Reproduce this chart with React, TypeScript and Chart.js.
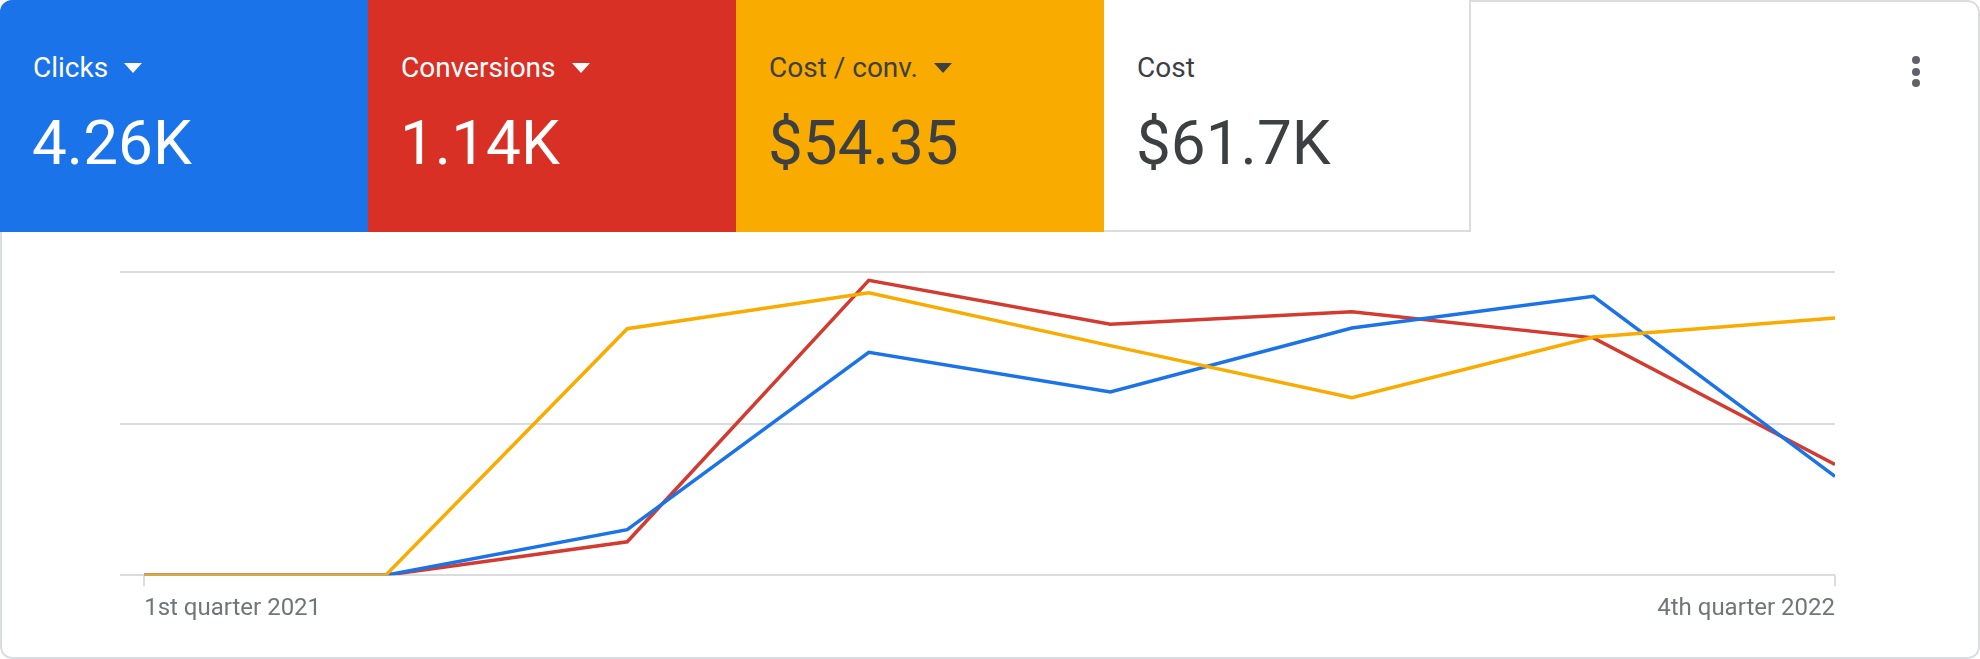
import React, { useEffect, useRef } from 'react';
import { Chart, registerables } from 'chart.js';

Chart.register(...registerables);

// quarters on the x axis (only first and last are labelled)
const quarters = [
    '1st quarter 2021', '2nd quarter 2021', '3rd quarter 2021', '4th quarter 2021',
    '1st quarter 2022', '2nd quarter 2022', '3rd quarter 2022', '4th quarter 2022',
];

// series values, each metric has its own hidden scale
const clicks = [0, 0, 180, 882, 725, 978, 1104, 391];
const conversions = [0, 0, 32, 282, 240, 252, 227, 106];
const costPerConv = [0, 0, 56.9, 65.2, 53.0, 41.0, 55.0, 59.4];

const clicksMax = 1200;
const conversionsMax = 290;
const costPerConvMax = 70;

// scorecard tiles
const tileLabels = ['Clicks', 'Conversions', 'Cost / conv.', 'Cost'];
const tileValues = ['4.26K', '1.14K', '$54.35', '$61.7K'];
const tileColors = ['#1a73e8', '#d93025', '#f9ab00', '#ffffff'];
const tileText = ['#ffffff', '#ffffff', '#3c4043', '#3c4043'];
const tileHasArrow = [true, true, true, false];

const FONT = 'Roboto, "Noto Sans", Arial, sans-serif';

const TrendChart: React.FC = () => {
    const chartRef = useRef<HTMLCanvasElement>(null);
    const chartInstance = useRef<Chart | null>(null);

    useEffect(() => {
        if (!chartRef.current) return;
        if (chartInstance.current) chartInstance.current.destroy();
        const ctx = chartRef.current.getContext('2d');
        if (!ctx) return;

        const toPoints = (arr: number[]) => arr.map((v, i) => ({ x: i, y: v }));

        chartInstance.current = new Chart(ctx, {
            type: 'line',
            data: {
                datasets: [
                    {
                        label: 'Cost / conv.',
                        data: toPoints(costPerConv),
                        borderColor: '#f9ab00',
                        yAxisID: 'yCpa',
                        order: 0,
                    },
                    {
                        label: 'Clicks',
                        data: toPoints(clicks),
                        borderColor: '#1a73e8',
                        yAxisID: 'y',
                        order: 1,
                    },
                    {
                        label: 'Conversions',
                        data: toPoints(conversions),
                        borderColor: '#d33b30',
                        yAxisID: 'yConv',
                        order: 2,
                    },
                ],
            },
            options: {
                animation: false,
                responsive: true,
                maintainAspectRatio: false,
                layout: { padding: { left: 120, right: 145, top: 40, bottom: 28 } },
                elements: {
                    line: { borderWidth: 3.5, tension: 0, fill: false },
                    point: { radius: 0, hoverRadius: 0 },
                },
                plugins: {
                    legend: { display: false },
                    tooltip: { enabled: false },
                },
                scales: {
                    x: {
                        type: 'linear',
                        min: -0.1,
                        max: quarters.length - 1,
                        afterBuildTicks: (scale: any) => {
                            scale.ticks = [{ value: 0 }, { value: quarters.length - 1 }];
                        },
                        grid: {
                            drawOnChartArea: false,
                            drawTicks: true,
                            tickLength: 11,
                            color: '#dadce0',
                            lineWidth: 2,
                        },
                        border: { display: false },
                        ticks: {
                            autoSkip: false,
                            maxRotation: 0,
                            align: 'inner',
                            padding: 8,
                            color: '#70757a',
                            font: { family: FONT, size: 24 },
                            callback: (value: any) => quarters[Number(value)] ?? '',
                        },
                    },
                    y: {
                        min: 0,
                        max: clicksMax,
                        ticks: { display: false, stepSize: clicksMax / 2 },
                        grid: { color: '#dadce0', lineWidth: 2, drawTicks: false },
                        border: { display: false },
                    },
                    yConv: {
                        display: false,
                        min: 0,
                        max: conversionsMax,
                    },
                    yCpa: {
                        display: false,
                        min: 0,
                        max: costPerConvMax,
                    },
                },
            },
        });

        return () => {
            if (chartInstance.current) {
                chartInstance.current.destroy();
                chartInstance.current = null;
            }
        };
    }, []);

    return <canvas ref={chartRef}></canvas>;
};

const Tile: React.FC<{ i: number }> = ({ i }) => {
    const white = tileColors[i] === '#ffffff';
    return (
        <div
            style={{
                position: 'absolute',
                left: i * 368,
                top: 0,
                width: white ? 367 : 368,
                height: 232,
                boxSizing: 'border-box',
                background: tileColors[i],
                color: tileText[i],
                borderRight: white ? '2px solid #dadce0' : 'none',
                borderBottom: white ? '2px solid #dadce0' : 'none',
            }}
        >
            <div
                style={{
                    position: 'absolute',
                    left: 33,
                    top: 54,
                    display: 'flex',
                    alignItems: 'flex-start',
                    fontSize: 28,
                    lineHeight: 1,
                    whiteSpace: 'nowrap',
                }}
            >
                <span>{tileLabels[i]}</span>
                {tileHasArrow[i] && (
                    <span
                        style={{
                            marginLeft: 16,
                            marginTop: 9,
                            width: 0,
                            height: 0,
                            borderLeft: '9.5px solid transparent',
                            borderRight: '9.5px solid transparent',
                            borderTop: `10px solid ${tileText[i]}`,
                        }}
                    />
                )}
            </div>
            <div
                style={{
                    position: 'absolute',
                    left: 32,
                    top: 112,
                    fontSize: 62,
                    lineHeight: 1,
                    whiteSpace: 'nowrap',
                }}
            >
                {tileValues[i]}
            </div>
        </div>
    );
};

const App: React.FC = () => {
    useEffect(() => {
        document.body.style.margin = '0';
    }, []);

    return (
        <div
            style={{
                position: 'relative',
                width: 1980,
                height: 659,
                borderRadius: 12,
                overflow: 'hidden',
                background: '#ffffff',
                fontFamily: FONT,
            }}
        >
            <div
                style={{
                    position: 'absolute',
                    inset: 0,
                    border: '2px solid #dadce0',
                    borderRadius: 12,
                }}
            />
            {tileLabels.map((_, i) => (
                <Tile key={i} i={i} />
            ))}
            {/* overflow menu */}
            <div style={{ position: 'absolute', left: 1912, top: 56 }}>
                {[0, 1, 2].map((d) => (
                    <div
                        key={d}
                        style={{
                            width: 8,
                            height: 8,
                            borderRadius: 4,
                            background: '#5f6368',
                            marginBottom: 3.5,
                        }}
                    />
                ))}
            </div>
            <div style={{ position: 'absolute', left: 0, top: 232, width: 1980, height: 427 }}>
                <TrendChart />
            </div>
        </div>
    );
};

export default App;
